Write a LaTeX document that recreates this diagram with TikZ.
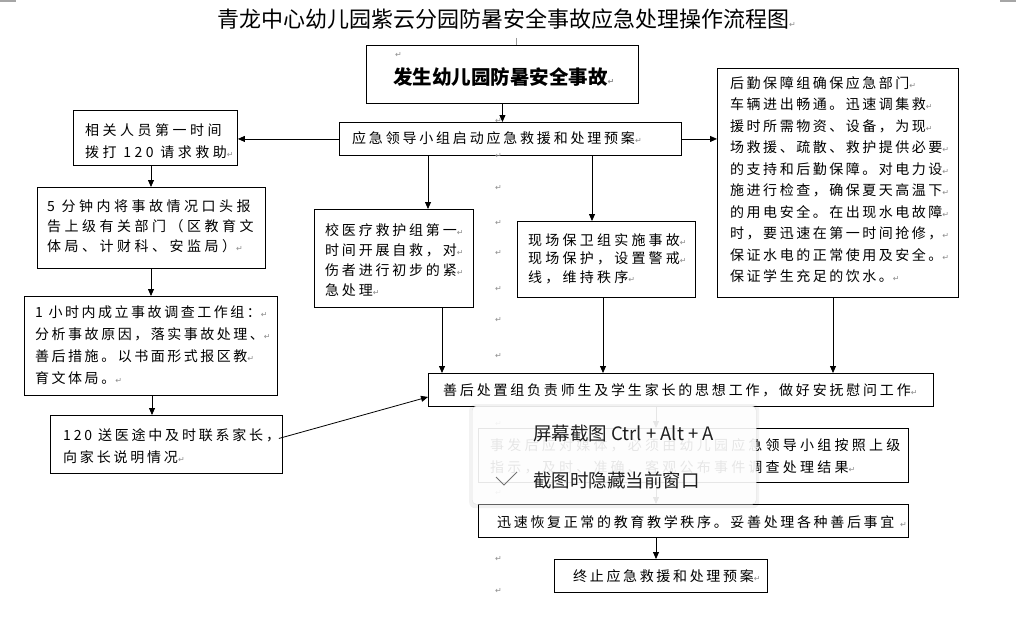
\documentclass[tikz,border=0pt]{standalone}
\usepackage{fontspec}
\usetikzlibrary{arrows.meta}
\newfontfamily\cjk{Noto Sans CJK SC}
\newfontfamily\dejavu{DejaVu Sans}
\newcommand\pmk{{\dejavu\fontsize{8}{8}\selectfont\color{black!45}↵}}
\newcommand\cf[3]{\cjk\fontsize{#1}{#2}\selectfont\addfontfeatures{LetterSpace=#3}}
\tikzset{
  box/.style={draw, line width=0.9pt, anchor=north west, inner sep=0pt},
  txt/.style={anchor=base west, align=left, inner sep=0pt},
  arr/.style={-{Triangle[length=7pt,width=6pt]}, line width=0.8pt},
  ln/.style={line width=0.8pt},
  pmark/.style={anchor=base west, inner sep=0pt, font=\dejavu\fontsize{8}{8}\selectfont, text=black!45}
}
\begin{document}
\begin{tikzpicture}[x=1pt,y=-1pt]
\useasboundingbox[fill=white] (0,0) rectangle (1016,618);
% corner marks
\draw[black!35, line width=1.5pt] (0,1) -- (16,1);
\draw[black!35, line width=1.5pt] (1000,1) -- (1016,1);
\draw[black!40, line width=0.6pt] (516,38) -- (516,45);
% title
\node[txt, font=\cjk\fontsize{22}{26}\selectfont] (title) at (217,28) {青龙中心幼儿园紫云分园防暑安全事故应急处理操作流程图\pmk};

% boxes
\node[box, minimum width=272pt, minimum height=58pt] (top) at (366,45) {};
\node[box, minimum width=342pt, minimum height=33pt] (yj) at (339,122) {};
\node[box, minimum width=164pt, minimum height=55pt] (xg) at (73,110) {};
\node[box, minimum width=228pt, minimum height=81pt] (wf) at (37,187) {};
\node[box, minimum width=253pt, minimum height=99pt] (yx) at (24,296) {};
\node[box, minimum width=232pt, minimum height=58pt] (sy) at (50,415) {};
\node[box, minimum width=159pt, minimum height=98pt] (xy) at (314,209) {};
\node[box, minimum width=178pt, minimum height=76pt] (bw) at (517,221) {};
\node[box, minimum width=241pt, minimum height=229pt] (hq) at (717,68) {};
\node[box, minimum width=505pt, minimum height=33pt] (sh) at (428,373) {};
\node[box, minimum width=430pt, minimum height=54pt] (hid) at (478,428) {};
\node[box, minimum width=430pt, minimum height=33pt] (xs) at (478,504) {};
\node[box, minimum width=213pt, minimum height=33pt] (zz) at (554,559) {};

% texts (base anchor = baseline of the last line)
\node[pmark] (tm0) at (395,58) {↵};
\node[txt, font=\cjk\bfseries\fontsize{19.5}{24}\selectfont] (ttop) at (393,84) {发生幼儿园防暑安全事故\pmk};
\node[txt, font=\cf{14}{20}{20}] (tyj) at (352,143) {应急领导小组启动应急救援和处理预案\pmk};
\node[txt, font=\cf{14}{22}{25}] (txg) at (85,157) {相关人员第一时间\\拨打 120 请求救助\pmk};
\node[txt, font=\cf{14}{20}{25}] (twf) at (47,251) {5 分钟内将事故情况口头报\\告上级有关部门（区教育文\\体局、计财科、安监局）\pmk};
\node[txt, font=\cf{14}{21.7}{18}] (tyx) at (35,383) {1 小时内成立事故调查工作组：\pmk\\分析事故原因，落实事故处理、\pmk\\善后措施。以书面形式报区教\pmk\\育文体局。\pmk};
\node[txt, font=\cf{14}{22}{20}] (tsy) at (63,462) {120 送医途中及时联系家长，\\向家长说明情况\pmk};
\node[txt, font=\cf{14}{20}{20}] (txy) at (325,295) {校医疗救护组第一\pmk\\时间开展自救，对\pmk\\伤者进行初步的紧\pmk\\急处理\pmk};
\node[txt, font=\cf{14}{18.5}{23}] (tbw) at (528,282) {现场保卫组实施事故\pmk\\现场保护，设置警戒\pmk\\线，维持秩序\pmk};
\node[txt, font=\cf{14}{21.5}{18}] (thq) at (730,281.5) {后勤保障组确保应急部门\pmk\\车辆进出畅通。迅速调集救\pmk\\援时所需物资、设备，为现\pmk\\场救援、疏散、救护提供必要\pmk\\的支持和后勤保障。对电力设\pmk\\施进行检查，确保夏天高温下\pmk\\的用电安全。在出现水电故障\pmk\\时，要迅速在第一时间抢修，\pmk\\保证水电的正常使用及安全。\pmk\\保证学生充足的饮水。\pmk};
\node[txt, font=\cf{14}{20}{20}] (tsh) at (443,395) {善后处置组负责师生及学生家长的思想工作，做好安抚慰问工作\pmk};
\node[txt, font=\cf{14}{22}{23}] (thid) at (490,472) {事发后应对媒体，必须由幼儿园应急领导小组按照上级\\指示，及时、准确、客观公布事件调查处理结果\pmk};
\node[txt, font=\cf{14}{20}{19}] (txs) at (497,527) {迅速恢复正常的教育教学秩序。妥善处理各种善后事宜 \pmk};
\node[txt, font=\cf{14}{20}{19}] (tzz) at (573,581) {终止应急救援和处理预案\pmk};

% stray paragraph marks
\foreach \yy [count=\i] in {123,158,190,225,255,291,322,358,426,495,561,593}
  \node[pmark] (sm\i) at (495,\yy) {↵};

% connectors
\draw[arr] (top.south) -- (top.south |- yj.north);
\draw[arr] (yj.west) -- (xg.east |- yj.west);
\draw[arr] (yj.east) -- (hq.west |- yj.east);
\coordinate (c1) at ([xshift=89pt]yj.south west);
\draw[arr] (c1) -- (c1 |- xy.north);
\coordinate (c2) at ([xshift=253pt]yj.south west);
\draw[arr] (c2) -- (c2 |- bw.north);
\coordinate (c3) at ([xshift=128pt]xy.south west);
\draw[arr] (c3) -- (c3 |- sh.north);
\coordinate (c4) at ([xshift=86pt]bw.south west);
\draw[arr] (c4) -- (c4 |- sh.north);
\coordinate (c5) at ([xshift=116pt]hq.south west);
\draw[arr] (c5) -- (c5 |- sh.north);
\coordinate (c6) at ([xshift=78pt]xg.south west);
\draw[arr] (c6) -- (c6 |- wf.north);
\coordinate (c7) at ([xshift=114pt]wf.south west);
\draw[arr] (c7) -- (c7 |- yx.north);
\coordinate (c8) at ([xshift=128pt]yx.south west);
\draw[arr] (c8) -- (c8 |- sy.north);
\coordinate (c9) at ([yshift=6pt,xshift=-4pt]sy.east);
\coordinate (c10) at ([yshift=-7pt]sh.west);
\draw[arr] (c9) -- (c10);
\coordinate (m) at ([xshift=228pt]sh.south west);
\draw[arr] (m) -- (m |- hid.north);
\draw[arr] (m |- hid.south) -- (m |- xs.north);
\draw[arr] (m |- xs.south) -- (m |- zz.north);

% screenshot popup
\node[anchor=north west, minimum width=290pt, minimum height=104pt, inner sep=0pt, fill=black, fill opacity=0.05, rounded corners=6pt] (popsh) at (469,404) {};
\node[anchor=north west, minimum width=284pt, minimum height=98pt, inner sep=0pt, fill=white, fill opacity=0.9, draw=black!12, rounded corners=4pt] (pop) at (472,406) {};
\node[txt, font=\cjk\fontsize{18.5}{22}\selectfont, text=black!88] (pt1) at (533,440) {屏幕截图 Ctrl + Alt + A};
\node[txt, font=\cjk\fontsize{18.5}{22}\selectfont, text=black!88] (pt2) at (533,487) {截图时隐藏当前窗口};
\draw[black!55, line width=0.8pt] (496,477) -- (504,485) -- (517,472);
\end{tikzpicture}
\end{document}
